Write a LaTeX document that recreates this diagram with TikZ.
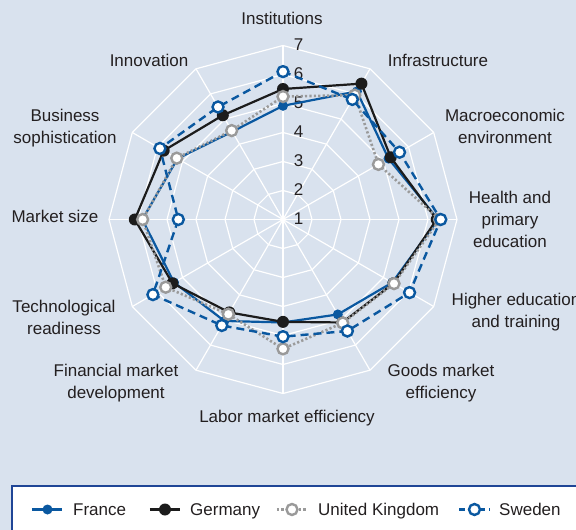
\documentclass[tikz,border=0pt]{standalone}
\usepackage{fontspec}
\setmainfont{Liberation Sans}
\definecolor{bg}{HTML}{D9E2EE}
\definecolor{frblue}{HTML}{0A58A0}
\definecolor{deblack}{HTML}{1C1C1C}
\definecolor{ukgray}{HTML}{9A9A9A}
\definecolor{boxblue}{HTML}{1F4596}
\definecolor{txt}{HTML}{231F20}
\begin{document}
\begin{tikzpicture}[x=1pt,y=1pt,
  grid/.style={white,line width=1.2pt},
  lbl/.style={text=txt,font=\fontsize{17}{22}\selectfont,align=center,inner sep=0pt},
  ring/.style={text=txt,font=\fontsize{17}{20}\selectfont,inner sep=0pt},
  frline/.style={frblue,line width=2.2pt,line join=round},
  deline/.style={deblack,line width=2.2pt,line join=round},
  ukline/.style={ukgray,line width=2.6pt,dash pattern=on 2.2pt off 2.2pt},
  swline/.style={frblue,line width=2.4pt,dash pattern=on 8pt off 5pt},
  frmark/.style={circle,fill=frblue,minimum size=10pt,inner sep=0pt},
  demark/.style={circle,fill=deblack,minimum size=12pt,inner sep=0pt},
  ukmark/.style={circle,fill=white,draw=ukgray,line width=2.4pt,minimum size=11pt,inner sep=0pt},
  swmark/.style={circle,fill=white,draw=frblue,line width=2.4pt,minimum size=11pt,inner sep=0pt}]
\clip (-283,-310.5) rectangle (293,219.5);
\fill[bg] (-283,-310.5) rectangle (293,219.5);
% grid
\foreach \k in {2,...,7}
  \draw[grid] (90:{(\k-1)*29}) \foreach \i in {1,...,11} { -- ({90-30*\i}:{(\k-1)*29}) } -- cycle;
\foreach \i in {0,...,11}
  \draw[grid] (0,0) -- ({90-30*\i}:174);
% ring labels
\foreach \k in {1,...,7}
  \node[ring] (r\k) at (15.5,{(\k-1)*29+1}) {\k};
% data
\foreach \v [count=\i from 0] in {4.92,6.1,5.2,6.35,5.35,4.78,4.55,5.04,5.34,5.85,5.2,4.5}
  \coordinate (F\i) at ({90-30*\i}:{(\v-1)*29});
\foreach \v [count=\i from 0] in {5.5,6.41,5.29,6.3,5.4,5.1,4.53,4.7,5.4,6.11,5.75,5.15}
  \coordinate (G\i) at ({90-30*\i}:{(\v-1)*29});
\foreach \v [count=\i from 0] in {5.24,5.95,4.8,6.4,5.42,5.12,5.46,4.77,5.67,5.84,5.23,4.54}
  \coordinate (U\i) at ({90-30*\i}:{(\v-1)*29});
\foreach \v [count=\i from 0] in {6.1,5.78,5.64,6.44,6.04,5.44,5.04,5.22,6.18,4.61,5.9,5.48}
  \coordinate (S\i) at ({90-30*\i}:{(\v-1)*29});
\draw[frline] (F0) \foreach \i in {1,...,11} { -- (F\i) } -- cycle;
\foreach \i in {0,...,11} \node[frmark] (fm\i) at (F\i) {};
\draw[deline] (G0) \foreach \i in {1,...,11} { -- (G\i) } -- cycle;
\foreach \i in {0,...,11} \node[demark] (gm\i) at (G\i) {};
\draw[ukline] (U0) \foreach \i in {1,...,11} { -- (U\i) } -- cycle;
\foreach \i in {0,...,11} \node[ukmark] (um\i) at (U\i) {};
\draw[swline] (S0) \foreach \i in {1,...,11} { -- (S\i) } -- cycle;
\foreach \i in {0,...,11} \node[swmark] (sm\i) at (S\i) {};
% axis labels
\node[lbl] (a0) at (-1,201.5) {Institutions};
\node[lbl] (a1) at (155,159.5) {Infrastructure};
\node[lbl] (a2) at (222,93.5) {Macroeconomic\\environment};
\node[lbl] (a3) at (227,0) {Health and\\primary\\education};
\node[lbl] (a4) at (233,-93) {Higher education\\and training};
\node[lbl] (a5) at (158,-163.5) {Goods market\\efficiency};
\node[lbl] (a6) at (4,-198.5) {Labor market efficiency};
\node[lbl] (a7) at (-167,-163.5) {Financial market\\development};
\node[lbl] (a8) at (-219,-97.5) {Technological\\readiness};
\node[lbl] (a9) at (-228,3.5) {Market size};
\node[lbl] (a10) at (-218,91.5) {Business\\sophistication};
\node[lbl] (a11) at (-134,159.5) {Innovation};
% legend
\draw[boxblue,fill=white,line width=2pt] (-271.3,-266.5) rectangle (320,-340);
\coordinate (lf1) at (-251,-290); \coordinate (lf2) at (-221,-290);
\draw[frline] (lf1) -- (lf2);
\node[frmark] (lfm) at (-235.5,-290) {};
\node[lbl,anchor=base west] (lft) at (-210,-295.5) {France};
\coordinate (lg1) at (-133,-290); \coordinate (lg2) at (-103,-290);
\draw[deline] (lg1) -- (lg2);
\node[demark] (lgm) at (-118,-290) {};
\node[lbl,anchor=base west] (lgt) at (-93,-295.5) {Germany};
\coordinate (lu1) at (-6,-290); \coordinate (lu2) at (24,-290);
\draw[ukline] (lu1) -- (lu2);
\node[ukmark] (lum) at (9,-290) {};
\node[lbl,anchor=base west] (lut) at (35,-295.5) {United Kingdom};
\coordinate (ls1) at (176,-290); \coordinate (ls2) at (207,-290);
\draw[swline,dash pattern=on 6pt off 4pt] (ls1) -- (ls2);
\node[swmark] (lsm) at (191.5,-290) {};
\node[lbl,anchor=base west] (lst) at (216,-295.5) {Sweden};
\end{tikzpicture}
\end{document}
